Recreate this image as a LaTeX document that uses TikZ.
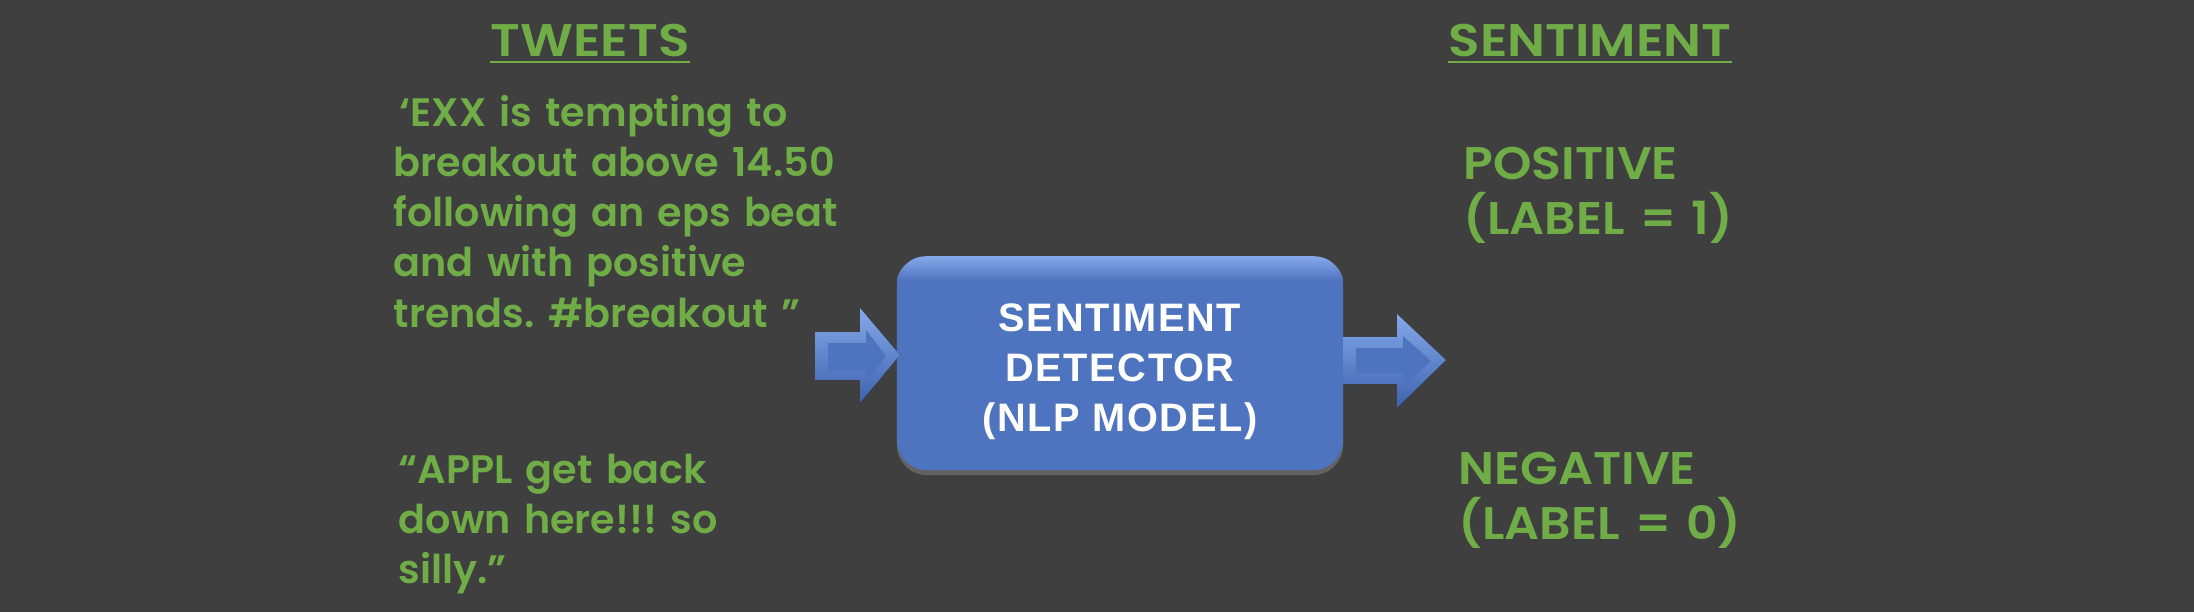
\documentclass[tikz,border=0pt]{standalone}
\usepackage{fontspec}
\setmainfont{Poppins}[UprightFont=* SemiBold]
\newfontfamily\headfont{Poppins}[UprightFont=* SemiBold, FakeStretch=1.13]
\newfontfamily\classfont{Poppins}[UprightFont=* SemiBold, FakeStretch=1.07, WordSpace=0.6]
\newfontfamily\boxfont{Liberation Sans}[UprightFont=* Bold, LetterSpace=4]
\usetikzlibrary{calc,shadows}
\frenchspacing

\definecolor{bgcol}{HTML}{3F3F3F}
\definecolor{tweetgreen}{HTML}{70AD47}
\definecolor{boxblue}{HTML}{4F74BF}
\definecolor{boxlight}{HTML}{86A9EA}
\definecolor{arrowdark}{HTML}{3D62AE}

\begin{document}
\begin{tikzpicture}[x = 0.01cm, y = -0.01cm,
    heading/.style = {anchor = base west, inner sep = 0, text = tweetgreen,
        font = \headfont\fontsize{13}{15}\selectfont},
    tweet/.style = {anchor = base west, inner sep = 0, text = tweetgreen,
        align = left, text width = 5.5cm, font = \fontsize{11.3}{14.3}\selectfont},
    classtxt/.style = {anchor = base west, inner sep = 0, text = tweetgreen,
        align = left, text width = 3.5cm, font = \classfont\fontsize{13}{15.9}\selectfont},
    detector/.style = {fill = boxblue, rounded corners = 0.3cm,
        minimum width = 4.46cm, minimum height = 2.13cm, text = white,
        align = center, font = \boxfont\fontsize{11.3}{14.2}\selectfont,
        drop shadow = {opacity = 0.55, shadow xshift = 0cm, shadow yshift = -0.05cm}},
    bevel/.style = {top color = boxlight, bottom color = arrowdark},
    face/.style = {fill = boxblue}]

    \fill[bgcol] (0, 0) rectangle (2194, 612);
    \useasboundingbox (0, 0) rectangle (2194, 612);

    % column headings
    \node[heading] (tw) at (490, 57) {TWEETS};
    \draw[tweetgreen, line width = 0.02cm] ([yshift = -0.05cm]tw.base west) -- ([yshift = -0.05cm]tw.base east);
    \node[heading] (sent) at (1448, 57) {SENTIMENT};
    \draw[tweetgreen, line width = 0.02cm] ([yshift = -0.05cm]sent.base west) -- ([yshift = -0.05cm]sent.base east);

    % tweets
    \node[tweet] (tweetA) at (393, 126) {\hspace*{0.06cm}‘EXX is tempting to\\breakout above 14.50\\following an eps beat\\and with positive\\trends. \#breakout ”};
    \node[tweet] (tweetB) at (398, 483) {“APPL get back\\down here!!! so\\silly.”};

    % model
    \node[detector] (det) at (1120, 363.5) {\rule{0pt}{0.44cm}SENTIMENT\\DETECTOR\\(NLP MODEL)};
    \begin{scope}
        \clip[rounded corners = 0.3cm] (det.north west) rectangle (det.south east);
        \shade[top color = boxlight, bottom color = boxblue] (det.north west) rectangle ($(det.north east) + (0, 24)$);
    \end{scope}

    % block arrows
    \fill[bevel] (815, 332) -- (860, 332) -- (860, 308) -- (900, 355) -- (860, 403) -- (860, 380) -- (815, 380) -- cycle;
    \fill[face] (828, 343) -- (866, 343) -- (866, 330) -- (886, 356) -- (866, 383) -- (866, 370) -- (828, 370) -- cycle;
    \fill[bevel] (1343, 337) -- (1397, 337) -- (1397, 314) -- (1446, 360) -- (1397, 408) -- (1397, 384) -- (1343, 384) -- cycle;
    \fill[face] (1356, 348) -- (1403, 348) -- (1403, 336) -- (1431, 361) -- (1403, 387) -- (1403, 373) -- (1356, 373) -- cycle;

    % labels
    \node[classtxt] (pos) at (1463, 179) {POSITIVE\\(LABEL = 1)};
    \node[classtxt] (neg) at (1458, 484) {NEGATIVE\\(LABEL = 0)};

\end{tikzpicture}
\end{document}
